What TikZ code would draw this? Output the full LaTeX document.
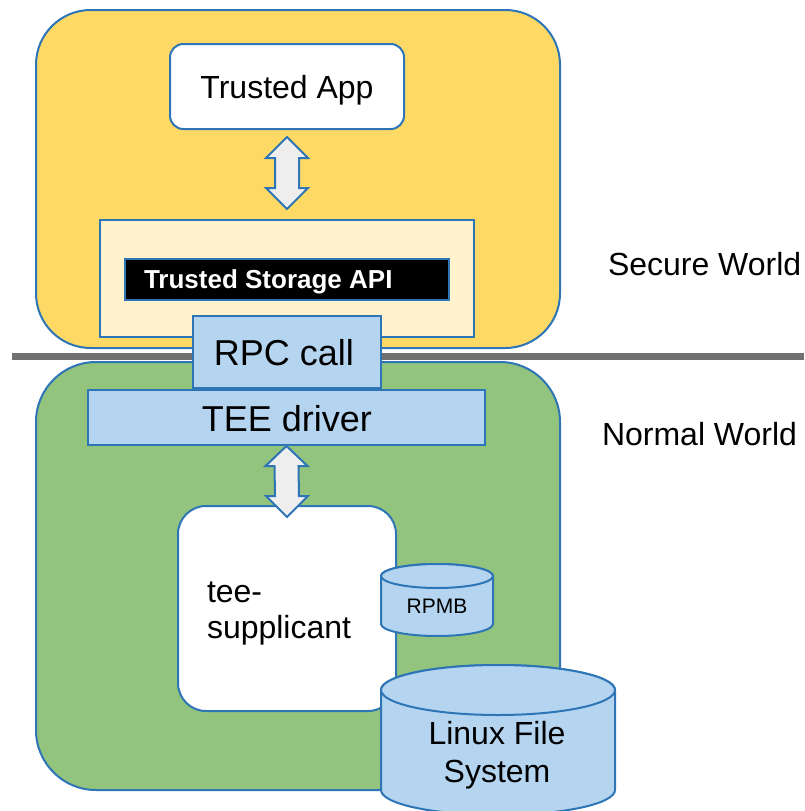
\documentclass[tikz,border=0pt]{standalone}
\usepackage{fontspec}
\setmainfont{Liberation Sans}
\usetikzlibrary{fit,calc}
\definecolor{secyellow}{HTML}{FFD966}
\definecolor{lightyel}{HTML}{FFF2CC}
\definecolor{normgreen}{HTML}{93C47D}
\definecolor{boxblue}{HTML}{B4D4F0}
\definecolor{bordblue}{HTML}{2E75B6}
\definecolor{arrfill}{HTML}{EEEEEE}
\definecolor{bargray}{HTML}{707070}
\begin{document}
\begin{tikzpicture}[x=0.75pt,y=-0.75pt,
  frame/.style={draw=bordblue, line width=1.5pt, inner sep=0pt, outer sep=0pt},
  lbl/.style={anchor=base, inner sep=0pt, outer sep=0pt, font=\fontsize{24}{28}\selectfont},
  biglbl/.style={lbl, font=\fontsize{27}{32}\selectfont},
  dblarrow/.style={draw=bordblue, fill=arrfill, line width=1.5pt, line join=miter},
  cyl/.style={draw=bordblue, fill=boxblue, line width=1.5pt},
  graybar/.style={draw=bargray, line width=5.25pt}
]
\useasboundingbox (0,0) rectangle (804,811);
\fill[white] (0,0) rectangle (804,811);
\clip (0,0) rectangle (804,811);

% worlds
\node[frame, fill=secyellow, rounded corners=41pt, fit={(36,10) (560,348)}] (secure) {};
\node[frame, fill=normgreen, rounded corners=45pt, fit={(36,362) (560,790)}] (normal) {};
\coordinate (barL) at (12,356.5);
\coordinate (barR) at (804,356.5);
\draw[graybar] (barL) -- (barR);

% secure world content
\node[frame, fill=white, rounded corners=10pt, fit={(170,44) (404,129)}] (ta) {};
\node[lbl] (talbl) at (287,98) {Trusted App};
\node[frame, fill=lightyel, fit={(100,220) (474,337)}] (tsbox) {};
\node[frame, fill=black, fit={(125,259) (449,300)}] (tsapi) {};
\node[lbl, anchor=base west, text=white, font=\bfseries\fontsize{19.5}{23}\selectfont] (tsapilbl) at (144,288) {Trusted Storage API};

\coordinate (a1t) at ($(ta.south)+(0,8)$);
\coordinate (a1b) at ($(tsbox.north)+(0,-11)$);
\draw[dblarrow] (a1t) -- ++(21,21) -- ++(-9,0) -- ($(a1b)+(12,-21)$) -- ++(9,0) -- (a1b)
  -- ++(-21,-21) -- ++(9,0) -- ($(a1t)+(-12,21)$) -- ++(-9,0) -- cycle;

% RPC and driver
\node[frame, fill=boxblue, fit={(193,316) (381,388)}] (rpc) {};
\node[biglbl] (rpclbl) at (284,365) {RPC call};
\node[frame, fill=boxblue, fit={(88,390) (485,445)}] (tee) {};
\node[biglbl] (teelbl) at (287,431) {TEE driver};

% supplicant
\node[frame, fill=white, rounded corners=21pt, fit={(178,506) (396,711)}] (sup) {};
\node[lbl, anchor=base west] (suplbl1) at (207,602) {tee-};
\node[lbl, anchor=base west] (suplbl2) at (207,638) {supplicant};

\coordinate (a2t) at ($(tee.south)+(0,1)$);
\coordinate (a2b) at ($(sup.north)+(0,11)$);
\draw[dblarrow] (a2t) -- ++(21,20) -- ++(-9,0) -- ($(a2b)+(12,-21)$) -- ++(9,0) -- (a2b)
  -- ++(-21,-21) -- ++(9,0) -- ($(a2t)+(-12,20)$) -- ++(-9,0) -- cycle;

% RPMB cylinder
\coordinate (rpmbT) at (437,576);
\coordinate (rpmbB) at (437,624);
\draw[cyl] ($(rpmbT)+(-56,0)$) -- ($(rpmbB)+(-56,0)$)
  arc[start angle=180, end angle=360, x radius=42pt, y radius=9pt]
  -- ($(rpmbT)+(56,0)$)
  arc[start angle=0, end angle=180, x radius=42pt, y radius=9pt] -- cycle;
\draw[cyl] (rpmbT) ellipse [x radius=42pt, y radius=9pt];
\node[lbl, font=\fontsize{15.75}{19}\selectfont] (rpmblbl) at (437,613) {RPMB};

% Linux file system cylinder
\coordinate (lfsT) at (498,690);
\coordinate (lfsB) at (498,790);
\draw[cyl] ($(lfsT)+(-117,0)$) -- ($(lfsB)+(-117,0)$)
  arc[start angle=180, end angle=360, x radius=87.75pt, y radius=18.75pt]
  -- ($(lfsT)+(117,0)$)
  arc[start angle=0, end angle=180, x radius=87.75pt, y radius=18.75pt] -- cycle;
\draw[cyl] (lfsT) ellipse [x radius=87.75pt, y radius=18.75pt];
\node[lbl] (lfslbl1) at (497,744) {Linux File};
\node[lbl] (lfslbl2) at (497,782) {System};

% world labels
\node[lbl, anchor=base west] (seclbl) at (608,275) {Secure World};
\node[lbl, anchor=base west] (normlbl) at (602,445) {Normal World};
\end{tikzpicture}
\end{document}
